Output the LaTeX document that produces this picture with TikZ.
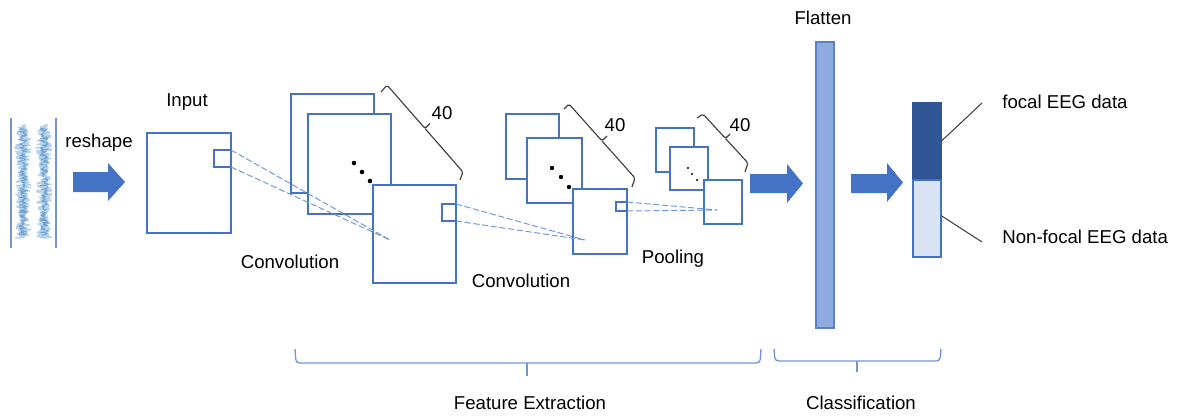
\documentclass[tikz,border=0pt]{standalone}
\usepackage{fontspec}
\setmainfont{Liberation Sans}
\usetikzlibrary{calc}
\definecolor{boxblue}{HTML}{4472C4}
\definecolor{dashblue}{HTML}{6F95DA}
\definecolor{arrblue}{HTML}{4472C4}
\definecolor{flatfill}{HTML}{8FAADC}
\definecolor{flatline}{HTML}{5B80C8}
\definecolor{darkout}{HTML}{2F5597}
\definecolor{lightout}{HTML}{DAE3F3}
\definecolor{bracegrey}{HTML}{404040}
\definecolor{bracebl}{HTML}{7096D8}
\definecolor{sigA}{HTML}{9DC3E6}
\definecolor{sigB}{HTML}{2E75B6}
\newcommand\mybox[6][box]{\node[#1, minimum width={(#4-#2)*0.02cm}, minimum height={(#5-#3)*0.02cm}] (#6) at (#2,#3) {};}
\begin{document}
\begin{tikzpicture}[x=0.02cm, y=-0.02cm,
  lbl/.style={font=\fontsize{10.6}{12}\selectfont, inner sep=0pt},
  box/.style={draw=boxblue, line width=1.1pt, fill=white, inner sep=0pt, outer sep=0pt, anchor=north west},
  sqbox/.style={box, line width=0.9pt, fill=none},
  dashc/.style={draw=dashblue, line width=0.55pt, dash pattern=on 3.5pt off 1.5pt},
  arrowfill/.style={fill=arrblue},
  gbrace/.style={draw=bracegrey, line width=0.65pt, rounded corners=1pt},
  bbrace/.style={draw=bracebl, line width=0.75pt, rounded corners=2pt},
  dot/.style={fill=black},
  leader/.style={draw=bracegrey, line width=0.6pt},
]
\useasboundingbox (0,0) rectangle (1177,416);

% EEG signal
\draw[boxblue!75, line width=0.6pt] (11,118) coordinate (eegl1) -- (11,248) coordinate (eegl2);
\draw[boxblue!75, line width=0.6pt] (56,118) coordinate (eegr1) -- (56,248) coordinate (eegr2);
\pgfmathsetseed{4242}
\foreach \c in {23,44}{
  \draw[sigA, line width=0.9pt, opacity=0.75, line join=round] plot[variable=\t, domain=0:113, samples=260]
    ({\c+8*rand*(0.55+0.45*abs(sin(\t*4)))}, {125+\t});
  \draw[sigB, line width=0.4pt, opacity=0.5, line join=round] plot[variable=\t, domain=3:110, samples=200]
    ({\c+4.5*rand}, {125+\t});
}

% reshape arrow
\node[lbl] (reshape) at (99,143) {reshape};
\fill[arrowfill] (73,172) -- (108,172) -- (108,163) -- (125,182) -- (108,201) -- (108,192) -- (73,192) -- cycle;

% Input
\node[lbl] (inputlbl) at (187,102) {Input};
\mybox{147}{133}{231}{233}{inp}
\mybox[sqbox]{214}{150}{231}{167}{inpsq}

% Conv 1 stack
\mybox{291}{94}{374}{193}{ca}
\mybox{308}{114}{391}{214}{cb}
\foreach \p in {(354,163),(362,172),(370,181)} \fill[dot] \p circle (2.3);
\mybox{373}{185}{456}{283}{cc}
\mybox[sqbox]{442}{204}{456}{221}{ccsq}
\draw[gbrace] (381,92) -- (387,85) -- (425,128.5) -- (430,123.5);
\draw[gbrace] (425,128.5) -- (463,172) -- (460,180);
\node[lbl] (n40a) at (442,113) {40};
\node[lbl] (conv1lbl) at (290,262) {Convolution};

% Conv 2 stack
\mybox{506}{114}{559}{179}{da}
\mybox{527}{138}{582}{203}{db}
\foreach \p in {(552,168),(561,177),(569,187)} \fill[dot] \p circle (2.2);
\mybox{573}{189}{627}{254}{dc}
\mybox[sqbox]{616}{202}{627}{211}{dcsq}
\draw[gbrace] (564,109) -- (569,104) -- (602,141) -- (607,136);
\draw[gbrace] (602,141) -- (635,178) -- (632,187);
\node[lbl] (n40b) at (615,125) {40};
\node[lbl] (conv2lbl) at (521,281) {Convolution};

% Pooling stack
\mybox{656}{128}{694}{172}{pa}
\mybox{670}{147}{708}{190}{pb}
\foreach \p in {(688,168),(692,174),(697,180)} \fill[dot] \p circle (1.2);
\mybox{704}{180}{742}{224}{pc}
\draw[gbrace] (697,118) -- (703,114) -- (725.5,138.5) -- (730,134);
\draw[gbrace] (725.5,138.5) -- (748,163) -- (745,172);
\node[lbl] (n40c) at (740,125) {40};
\node[lbl] (poollbl) at (673,259) {Pooling};

% dashed projections
\coordinate (t1) at (390,240);
\coordinate (t2) at (585,240);
\coordinate (t3) at (717,210);
\draw[dashc] (inpsq.north east) -- (t1);
\draw[dashc] (inpsq.south east) -- (t1);
\draw[dashc] (ccsq.north east) -- (t2);
\draw[dashc] (ccsq.south east) -- (t2);
\draw[dashc] (dcsq.north east) -- (t3);
\draw[dashc] (dcsq.south east) -- (t3);

% arrow to flatten
\fill[arrowfill] (750,174) -- (787,174) -- (787,164) -- (803,183.5) -- (787,203) -- (787,193) -- (750,193) -- cycle;

% Flatten
\node[lbl] (flatlbl) at (823,18) {Flatten};
\mybox[box, fill=flatfill, draw=flatline, line width=0.8pt]{816}{42}{834}{328}{flat}

% arrow to output
\fill[arrowfill] (851,174) -- (887,174) -- (887,163) -- (903,182.5) -- (887,202) -- (887,193) -- (851,193) -- cycle;

% Output
\mybox[box, fill=darkout, draw=darkout, line width=0.6pt]{913}{103}{941}{180}{outd}
\mybox[box, fill=lightout, draw=boxblue, line width=0.6pt]{913}{180}{941}{257}{outl}
\coordinate (fl) at (982,103);
\coordinate (nfl) at (982,242);
\draw[leader] (outd.east) -- (fl);
\draw[leader] ($(outl.east)+(0,-3)$) -- (nfl);
\node[lbl, anchor=west] (focal) at (1002,102) {focal EEG data};
\node[lbl, anchor=west] (nonfocal) at (1002,237) {Non-focal EEG data};

% bottom braces
\draw[bbrace] (295,349) -- (296,363) -- (760,363) -- (761,349);
\draw[bbrace] (527,363) -- (527,376);
\node[lbl] (featlbl) at (530,403) {Feature Extraction};
\draw[bbrace] (774,349) -- (775,361) -- (940,361) -- (941,349);
\draw[bbrace] (857,361) -- (857,372);
\node[lbl] (classlbl) at (861,403) {Classification};
\end{tikzpicture}
\end{document}
